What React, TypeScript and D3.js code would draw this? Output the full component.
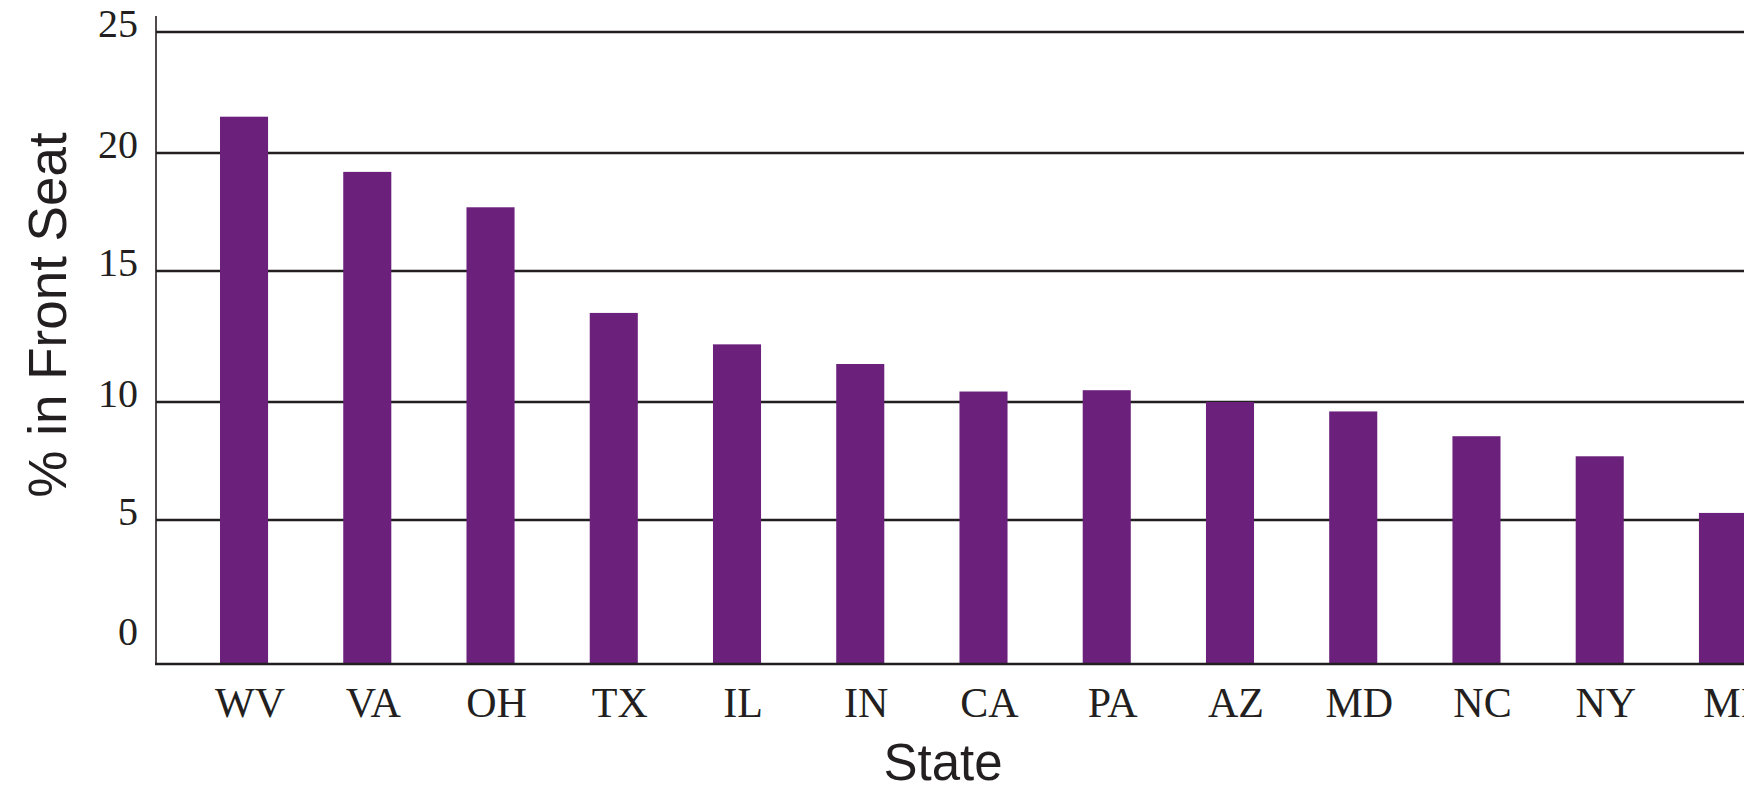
import React, { useRef, useEffect } from "react";
import * as d3 from "d3";

const states = ["WV", "VA", "OH", "TX", "IL", "IN", "CA", "PA", "AZ", "MD", "NC", "NY", "MI"];
const frontSeat = [21.5, 19.2, 17.7, 13.4, 12.2, 11.45, 10.4, 10.45, 10.0, 9.6, 8.55, 7.7, 5.3];
const yTicks = [0, 5, 10, 15, 20, 25];

const App = () => {
  const ref = useRef<SVGSVGElement>(null);

  useEffect(() => {
    const width = 1744;
    const height = 788;
    const ink = "#231f20";

    const svg = d3.select(ref.current).attr("width", width).attr("height", height);
    svg.selectAll("*").remove();

    // the printed gridlines are not evenly spaced, so the scale follows them
    const y = d3.scaleLinear().domain(yTicks).range([664, 520, 402, 271, 153, 32]);

    const x = d3
      .scaleBand()
      .domain(states)
      .range([220, 1747])
      .paddingInner(0.61)
      .paddingOuter(0);

    // gridlines
    svg
      .selectAll(".grid")
      .data(yTicks.filter((d) => d > 0))
      .enter()
      .append("line")
      .attr("x1", 156)
      .attr("x2", width)
      .attr("y1", (d) => y(d))
      .attr("y2", (d) => y(d))
      .attr("stroke", ink)
      .attr("stroke-width", 2.5);

    // y tick labels
    svg
      .selectAll(".ytick")
      .data(yTicks)
      .enter()
      .append("text")
      .attr("x", 138)
      .attr("y", (d) => (d === 0 ? y(d) - 19 : y(d) + 5))
      .attr("text-anchor", "end")
      .attr("font-family", "'Liberation Serif', 'Times New Roman', serif")
      .attr("font-size", 40)
      .attr("fill", ink)
      .text((d) => d);

    // bars
    svg
      .selectAll(".bar")
      .data(frontSeat)
      .enter()
      .append("rect")
      .attr("x", (d, i) => x(states[i]) ?? 0)
      .attr("width", x.bandwidth())
      .attr("y", (d) => y(d))
      .attr("height", (d) => y(0) - y(d))
      .attr("fill", "#6b207c");

    // axes
    svg
      .append("line")
      .attr("x1", 156)
      .attr("x2", 156)
      .attr("y1", 16)
      .attr("y2", y(0))
      .attr("stroke", ink)
      .attr("stroke-width", 1.6);

    svg
      .append("line")
      .attr("x1", 155)
      .attr("x2", width)
      .attr("y1", y(0))
      .attr("y2", y(0))
      .attr("stroke", ink)
      .attr("stroke-width", 2.5);

    // x tick labels
    svg
      .selectAll(".xtick")
      .data(states)
      .enter()
      .append("text")
      .attr("x", (d) => (x(d) ?? 0) + x.bandwidth() / 2 + 6)
      .attr("y", 717)
      .attr("text-anchor", "middle")
      .attr("font-family", "'Liberation Serif', 'Times New Roman', serif")
      .attr("font-size", 42)
      .attr("fill", ink)
      .text((d) => d);

    // axis titles
    svg
      .append("text")
      .attr("x", 943)
      .attr("y", 780)
      .attr("text-anchor", "middle")
      .attr("font-family", "'Liberation Sans', Arial, sans-serif")
      .attr("font-size", 51)
      .attr("fill", ink)
      .text("State");

    svg
      .append("text")
      .attr("transform", "translate(66, 315) rotate(-90)")
      .attr("text-anchor", "middle")
      .attr("font-family", "'Liberation Sans', Arial, sans-serif")
      .attr("font-size", 53)
      .attr("fill", ink)
      .text("% in Front Seat");
  }, []);

  return (
    <svg
      ref={ref}
      style={{ position: "absolute", left: 0, top: 0, display: "block", overflow: "hidden" }}
    ></svg>
  );
};

export default App;
